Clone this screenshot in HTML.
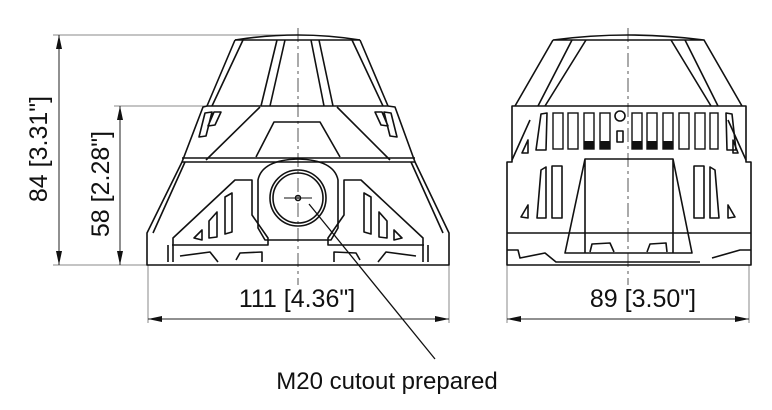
<!DOCTYPE html>
<html><head><meta charset="utf-8"><style>
html,body{margin:0;padding:0;background:#fff;}
svg{display:block;}
text{font-family:"Liberation Sans",Arial,sans-serif;fill:#111;}
</style></head><body>
<svg width="772" height="410" viewBox="0 0 772 410" xmlns="http://www.w3.org/2000/svg">
<defs>
<marker id="ar" viewBox="0 0 14 6" refX="14" refY="3" markerWidth="14" markerHeight="6" orient="auto-start-reverse" markerUnits="userSpaceOnUse"><path d="M0,0 L14,3 L0,6 Z" fill="#111"/></marker>
</defs>
<g stroke="#888" stroke-width="1" fill="none">
<line x1="53" y1="35" x2="300" y2="35"/>
<line x1="114" y1="106" x2="207" y2="106"/>
<line x1="53" y1="265" x2="150" y2="265"/>
<line x1="148" y1="265" x2="148" y2="323"/>
<line x1="449" y1="265" x2="449" y2="323"/>
<line x1="507" y1="265" x2="507" y2="323"/>
<line x1="749" y1="265" x2="749" y2="323"/>
</g>
<g stroke="#222" stroke-width="1" fill="none">
<line x1="59" y1="35" x2="59" y2="265" marker-start="url(#ar)" marker-end="url(#ar)"/>
<line x1="120" y1="106" x2="120" y2="265" marker-start="url(#ar)" marker-end="url(#ar)"/>
<line x1="148" y1="319" x2="449" y2="319" marker-start="url(#ar)" marker-end="url(#ar)"/>
<line x1="507" y1="319" x2="749" y2="319" marker-start="url(#ar)" marker-end="url(#ar)"/>
</g>
<g stroke="#555" stroke-width="1" stroke-dasharray="14,4,3,4">
<line x1="298" y1="28" x2="298" y2="285"/>
<line x1="628" y1="28" x2="628" y2="285"/>
</g>

<!-- LEFT DEVICE -->
<g stroke="#111" stroke-width="1.6" fill="none" stroke-linejoin="round">
<path d="M235,40 Q298,30 360,40"/>
<path d="M235,40 L360,40"/>
<path d="M235,40 L207,106 L388,106 L360,40"/>
<path d="M277,40 L261,106 M285,40 L270,106 M311,40 L324,106 M319,40 L333,106"/>
<path d="M243,40 L212,106 M352,40 L383,106"/>
<path d="M207,106 L203,107 L182,162 L415,162 L395,107 L388,106"/>
<path d="M182,158 L415,158"/>
<path d="M260,107 L206,160 M337,107 L390,160"/>
<path d="M256,157 L274,122 L320,122 L340,157"/>
<path d="M182,162 L147,233 L147,265 L449,265 L449,233 L415,162"/>
<path d="M153,233 L185,162 M443,233 L411,162"/>
<path d="M205,113 L212,112 L206,136 L199,137 Z M214,112 L221,112 L215,125 L208,126 Z"/>
<path d="M391,113 L384,112 L390,136 L397,137 Z M382,112 L375,112 L381,125 L388,126 Z"/>
<path d="M173,262 L173,238 L235,180 L252,180 L252,215 L268,238 L268,245 L172,245"/>
<path d="M423,262 L423,238 L361,180 L344,180 L344,215 L328,238 L328,245 L424,245"/>
<path d="M168,262 L168,245 M428,262 L428,245"/>
<path d="M180,256 L210,252 L218,262 M236,260 L240,253 L262,252 L262,262"/>
<path d="M416,256 L386,252 L378,262 M360,260 L356,253 L334,252 L334,262"/>
<path d="M194,238 L202,230 L202,240 Z M209,221 L217,212 L217,237 L209,238 Z M225,197 L232,193 L232,232 L225,234 Z"/>
<path d="M402,238 L394,230 L394,240 Z M387,221 L379,212 L379,237 L387,238 Z M371,197 L364,193 L364,232 L371,234 Z"/>
<path d="M265,240 L258,228 L258,180 Q262,160 298,159 Q334,160 338,180 L338,228 L331,240 Z"/>
<circle cx="298" cy="198" r="28"/>
<circle cx="298" cy="198" r="25"/>
<circle cx="298" cy="198" r="2.5"/>
<path d="M284,198 L312,198" stroke-width="1"/>
</g>
<line x1="309" y1="204" x2="435" y2="359" stroke="#111" stroke-width="1.3"/>

<!-- RIGHT DEVICE -->
<g stroke="#111" stroke-width="1.6" fill="none" stroke-linejoin="round">
<path d="M553,40 Q628,30 704,40 L553,40"/>
<path d="M553,40 L515,106 M704,40 L742,106"/>
<path d="M572,40 L538,106 M586,40 L545,106 M671,40 L711,106 M685,40 L718,106"/>
<path d="M512,106 L746,106 L746,162 L751,162 L751,265 L507,265 L507,162 L512,162 Z"/>
<path d="M507,233 L751,233 M507,250 L518,250 L520,258 L545,253 L556,262 L700,262 M712,258 L740,250 L751,250"/>
<path d="M512,160 L530,120 M746,160 L728,120"/>
<path d="M585,159 L673,159 L673,253 L585,253 Z M585,159 L565,253 L692,253 L673,159"/>
<path d="M590,252 L592,244 L610,243 L614,252 M647,252 L650,244 L666,243 L667,252"/>
<path d="M541,114 L547,113 L546,150 L536,150 Z M726,113 L732,114 L736,150 L727,150 Z"/>
<path d="M522,153 L528,140 L528,153 Z M733,140 L738,153 L733,153 Z"/>
<path d="M541,170 L546,167 L546,218 L537,218 Z M552,166 L562,166 L562,218 L552,218 Z M521,217 L528,205 L528,218 Z"/>
<path d="M715,170 L710,167 L710,218 L719,218 Z M704,166 L694,166 L694,218 L704,218 Z M735,217 L728,205 L728,218 Z"/>
<circle cx="620" cy="116" r="5"/>
<path d="M617,131 L623,131 L623,142 L617,142 Z"/>
</g>
<g stroke="#111" stroke-width="1.4" fill="none">
<rect x="553" y="113" width="10" height="36"/>
<rect x="568" y="113" width="10" height="36"/>
<rect x="584" y="113" width="10" height="36"/>
<rect x="600" y="113" width="10" height="36"/>
<rect x="632" y="113" width="10" height="36"/>
<rect x="647" y="113" width="10" height="36"/>
<rect x="663" y="113" width="10" height="36"/>
<rect x="679" y="113" width="10" height="36"/>
<rect x="695" y="113" width="10" height="36"/>
<rect x="710" y="113" width="8" height="36"/>
</g>
<g fill="#111">
<rect x="584" y="141" width="10" height="8"/>
<rect x="600" y="141" width="10" height="8"/>
<rect x="632" y="141" width="10" height="8"/>
<rect x="647" y="141" width="10" height="8"/>
<rect x="663" y="141" width="10" height="8"/>
</g>

<text x="297" y="307" font-size="25" text-anchor="middle">111 [4.36"]</text>
<text x="643" y="307" font-size="25" text-anchor="middle">89 [3.50"]</text>
<text x="387" y="389" font-size="24" text-anchor="middle">M20 cutout prepared</text>
<text transform="translate(47,149) rotate(-90)" font-size="25" text-anchor="middle">84 [3.31"]</text>
<text transform="translate(109,184) rotate(-90)" font-size="25" text-anchor="middle">58 [2.28"]</text>
</svg>
</body></html>
